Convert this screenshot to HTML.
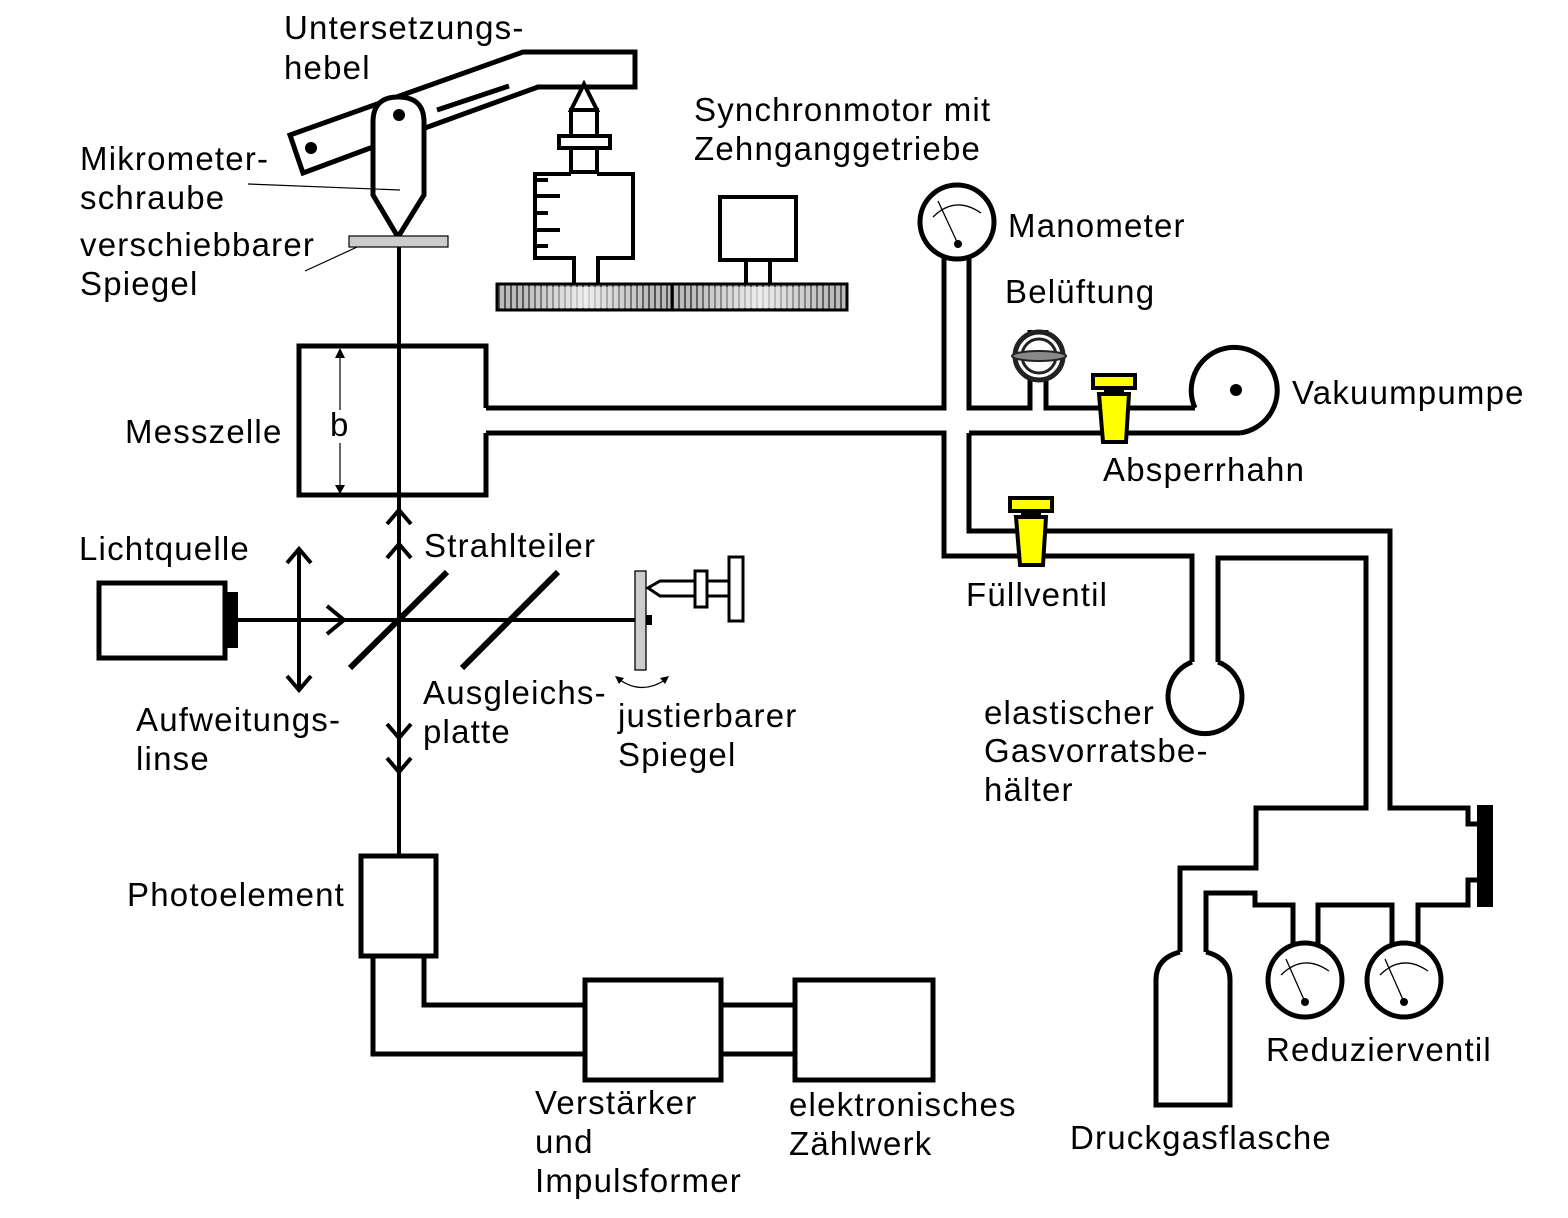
<!DOCTYPE html>
<html><head><meta charset="utf-8"><style>
html,body{margin:0;padding:0;background:#fff}
svg{display:block}
text{font-family:"Liberation Sans",Arial,sans-serif;font-size:33px;letter-spacing:1.2px;fill:#000}
</style></head><body>
<svg width="1568" height="1218" viewBox="0 0 1568 1218" xmlns="http://www.w3.org/2000/svg">
<defs>
<pattern id="gear" width="6" height="30" patternUnits="userSpaceOnUse">
<rect width="6" height="30" fill="#bbb"/><rect width="2" height="30" fill="#555"/>
</pattern>
<linearGradient id="shade" x1="0" x2="1" y1="0" y2="0">
<stop offset="0" stop-color="#fff" stop-opacity="0"/>
<stop offset="0.5" stop-color="#fff" stop-opacity="0.75"/>
<stop offset="1" stop-color="#fff" stop-opacity="0"/>
</linearGradient>
</defs>
<g fill="none" stroke="#000" stroke-width="5" stroke-linejoin="miter">
<path d="M425,128 L538,87 L635,87 L635,52 L523,52 L290,135 L303,173 L373,147" fill="#fff"/>
<line x1="437" y1="110" x2="509" y2="86" stroke-width="5"/>
<path d="M373,195 L373,122 Q373,97 398,97 Q424,97 424,122 L424,195 L398,237 L373,195 Z" fill="#fff"/>
</g>
<circle cx="399" cy="115" r="6"/>
<circle cx="311" cy="148" r="6"/>
<line x1="248" y1="184" x2="400" y2="190" stroke="#000" stroke-width="1.2"/>
<line x1="305" y1="271" x2="368" y2="242" stroke="#000" stroke-width="1.2"/>
<rect x="349" y="236" width="99" height="11" fill="#ccc" stroke="#000" stroke-width="1.2"/>
<line x1="399" y1="247" x2="399" y2="856" stroke="#000" stroke-width="4"/>

<g fill="#fff" stroke="#000" stroke-width="4">
<path d="M571,110 L584,84 L597,110 Z"/>
<rect x="571" y="110" width="26" height="62"/>
<rect x="559" y="136" width="51" height="12"/>
<path d="M574,285 L574,258 L535,258 L535,174 L571,174 M597,174 L633,174 L633,258 L598,258 L598,285"/>
<rect x="720" y="197" width="76" height="63"/>
<path d="M746,260 L746,285 M770,260 L770,285"/>
</g>
<g stroke="#000" stroke-width="4">
<line x1="535" y1="180" x2="548" y2="180"/><line x1="535" y1="196" x2="560" y2="196"/>
<line x1="535" y1="213" x2="548" y2="213"/><line x1="535" y1="230" x2="560" y2="230"/>
<line x1="535" y1="246" x2="548" y2="246"/>
</g>
<rect x="497" y="284" width="350" height="26" fill="url(#gear)" stroke="#000" stroke-width="3"/>
<rect x="520" y="287" width="130" height="21" fill="url(#shade)"/>
<rect x="690" y="287" width="140" height="21" fill="url(#shade)"/>
<line x1="672" y1="284" x2="672" y2="310" stroke="#000" stroke-width="3"/>

<g fill="none" stroke="#000" stroke-width="5">
<path d="M486,408 L486,346 L299,346 L299,495 L486,495 L486,433"/>
<path d="M486,408 L944,408 L944,258"/>
<path d="M486,433 L944,433 L944,556 L1192,556 L1192,662"/>
<path d="M969,258 L969,408 L1030,408 L1030,330"/>
<path d="M1046,330 L1046,408 L1195,408"/>
<path d="M969,433 L1240,433"/>
<path d="M969,433 L969,531 L1390,531 L1390,808 L1468,808 L1468,824 L1478,824 M1478,880 L1468,880 L1468,905 L1418,905 L1418,945"/>
<path d="M1218,662 L1218,558 L1366,558 L1366,808 L1256,808 L1256,868 L1180,868 L1180,952"/>
<path d="M1206,952 L1206,893 L1255,893 L1255,905 L1293,905 L1293,945"/>
<path d="M1318,945 L1318,905 L1392,905 L1392,945"/>
<path d="M1195,408 A43,43 0 1 1 1240,433"/>
<path d="M1192,662 A37,37 0 1 0 1218,662"/>
<circle cx="957" cy="222" r="37" fill="#fff"/>
<circle cx="1305" cy="980" r="37" fill="#fff"/>
<circle cx="1404" cy="980" r="37" fill="#fff"/>
<path d="M1180,952 Q1156,958 1156,980 L1156,1105 L1230,1105 L1230,980 Q1230,958 1206,952"/>
</g>
<circle cx="1236" cy="390" r="6"/>
<rect x="1477" y="805" width="16" height="102"/>
<g stroke="#000" stroke-width="1.3" fill="none">
<path d="M933,217 Q955,195 981,213"/><line x1="938" y1="201" x2="958" y2="244"/>
<path d="M1281,975 Q1303,953 1329,971"/><line x1="1286" y1="959" x2="1305" y2="1002"/>
<path d="M1380,975 Q1402,953 1428,971"/><line x1="1385" y1="959" x2="1404" y2="1002"/>
</g>
<circle cx="958" cy="244" r="4"/><circle cx="1305" cy="1002" r="4"/><circle cx="1404" cy="1002" r="4"/>
<circle cx="1039" cy="356" r="24" fill="#fff" stroke="#222" stroke-width="5"/>
<circle cx="1039" cy="356" r="17" fill="none" stroke="#222" stroke-width="3"/>
<ellipse cx="1039" cy="356" rx="27" ry="5" fill="#888" stroke="#222" stroke-width="2"/>
<g stroke="#000" stroke-width="4">
<rect x="1093" y="375" width="42" height="13" fill="#ff0"/>
<rect x="1106" y="388" width="16" height="6" fill="#000"/>
<path d="M1099,394 L1129,394 L1126,442 L1103,442 Z" fill="#ff0"/>
<rect x="1010" y="498" width="42" height="13" fill="#ff0"/>
<rect x="1023" y="511" width="16" height="6" fill="#000"/>
<path d="M1016,517 L1046,517 L1043,565 L1020,565 Z" fill="#ff0"/>
</g>

<line x1="340" y1="352" x2="340" y2="410" stroke="#000" stroke-width="1.2"/>
<line x1="340" y1="443" x2="340" y2="490" stroke="#000" stroke-width="1.2"/>
<path d="M335,358 L340,348 L345,358 Z M335,485 L340,494 L345,485 Z"/>
<text x="330" y="436">b</text>

<rect x="99" y="583" width="126" height="75" fill="#fff" stroke="#000" stroke-width="5"/>
<rect x="225" y="592" width="13" height="56"/>
<g stroke="#000" stroke-width="4" fill="none">
<line x1="238" y1="620" x2="636" y2="620"/>
<line x1="299" y1="549" x2="299" y2="690"/>
<path d="M287,563 L299,549 L311,563 M287,676 L299,690 L311,676"/>
<path d="M327,606 L344,620 L327,634"/>
<path d="M387,524 L399,510 L411,524 M387,558 L399,544 L411,558"/>
<path d="M387,724 L399,738 L411,724 M387,758 L399,772 L411,758"/>
</g>
<line x1="350" y1="668" x2="447" y2="572" stroke="#000" stroke-width="6"/>
<line x1="462" y1="668" x2="558" y2="572" stroke="#000" stroke-width="6"/>
<rect x="635" y="571" width="11" height="99" fill="#ccc" stroke="#000" stroke-width="1.3"/>
<rect x="646" y="615" width="6" height="10"/>
<g stroke="#000" stroke-width="3" fill="#fff">
<path d="M695,581 L660,581 L648,588 L660,596 L695,596 Z"/>
<rect x="695" y="571" width="12" height="36"/>
<rect x="707" y="581" width="22" height="15"/>
<rect x="729" y="557" width="14" height="64"/>
</g>
<path d="M620,680 Q642,695 665,680" stroke="#000" stroke-width="1.3" fill="none"/>
<path d="M615,676 L624,678 L619,684 Z M669,676 L660,678 L665,684 Z"/>

<g stroke="#000" stroke-width="5" fill="none">
<rect x="361" y="856" width="75" height="100" fill="#fff"/>
<path d="M373,956 L373,1054 L585,1054 M424,956 L424,1005 L585,1005"/>
<rect x="585" y="980" width="136" height="100"/>
<rect x="795" y="980" width="138" height="100"/>
<path d="M721,1005 L795,1005 M721,1054 L795,1054"/>
</g>

<text x="284" y="39">Untersetzungs-</text>
<text x="284" y="79">hebel</text>
<text x="80" y="170">Mikrometer-</text>
<text x="80" y="209">schraube</text>
<text x="80" y="256">verschiebbarer</text>
<text x="80" y="295">Spiegel</text>
<text x="694" y="121">Synchronmotor mit</text>
<text x="694" y="160">Zehnganggetriebe</text>
<text x="1008" y="237">Manometer</text>
<text x="1005" y="303">Belüftung</text>
<text x="1292" y="404">Vakuumpumpe</text>
<text x="1103" y="481">Absperrhahn</text>
<text x="125" y="443">Messzelle</text>
<text x="79" y="560">Lichtquelle</text>
<text x="424" y="557">Strahlteiler</text>
<text x="966" y="606">Füllventil</text>
<text x="136" y="731">Aufweitungs-</text>
<text x="136" y="770">linse</text>
<text x="423" y="704">Ausgleichs-</text>
<text x="423" y="743">platte</text>
<text x="618" y="727">justierbarer</text>
<text x="618" y="766">Spiegel</text>
<text x="984" y="724">elastischer</text>
<text x="984" y="762">Gasvorratsbe-</text>
<text x="984" y="801">hälter</text>
<text x="127" y="906">Photoelement</text>
<text x="1266" y="1061">Reduzierventil</text>
<text x="535" y="1114">Verstärker</text>
<text x="535" y="1153">und</text>
<text x="535" y="1192">Impulsformer</text>
<text x="789" y="1116">elektronisches</text>
<text x="789" y="1155">Zählwerk</text>
<text x="1070" y="1149">Druckgasflasche</text>
</svg>
</body></html>
